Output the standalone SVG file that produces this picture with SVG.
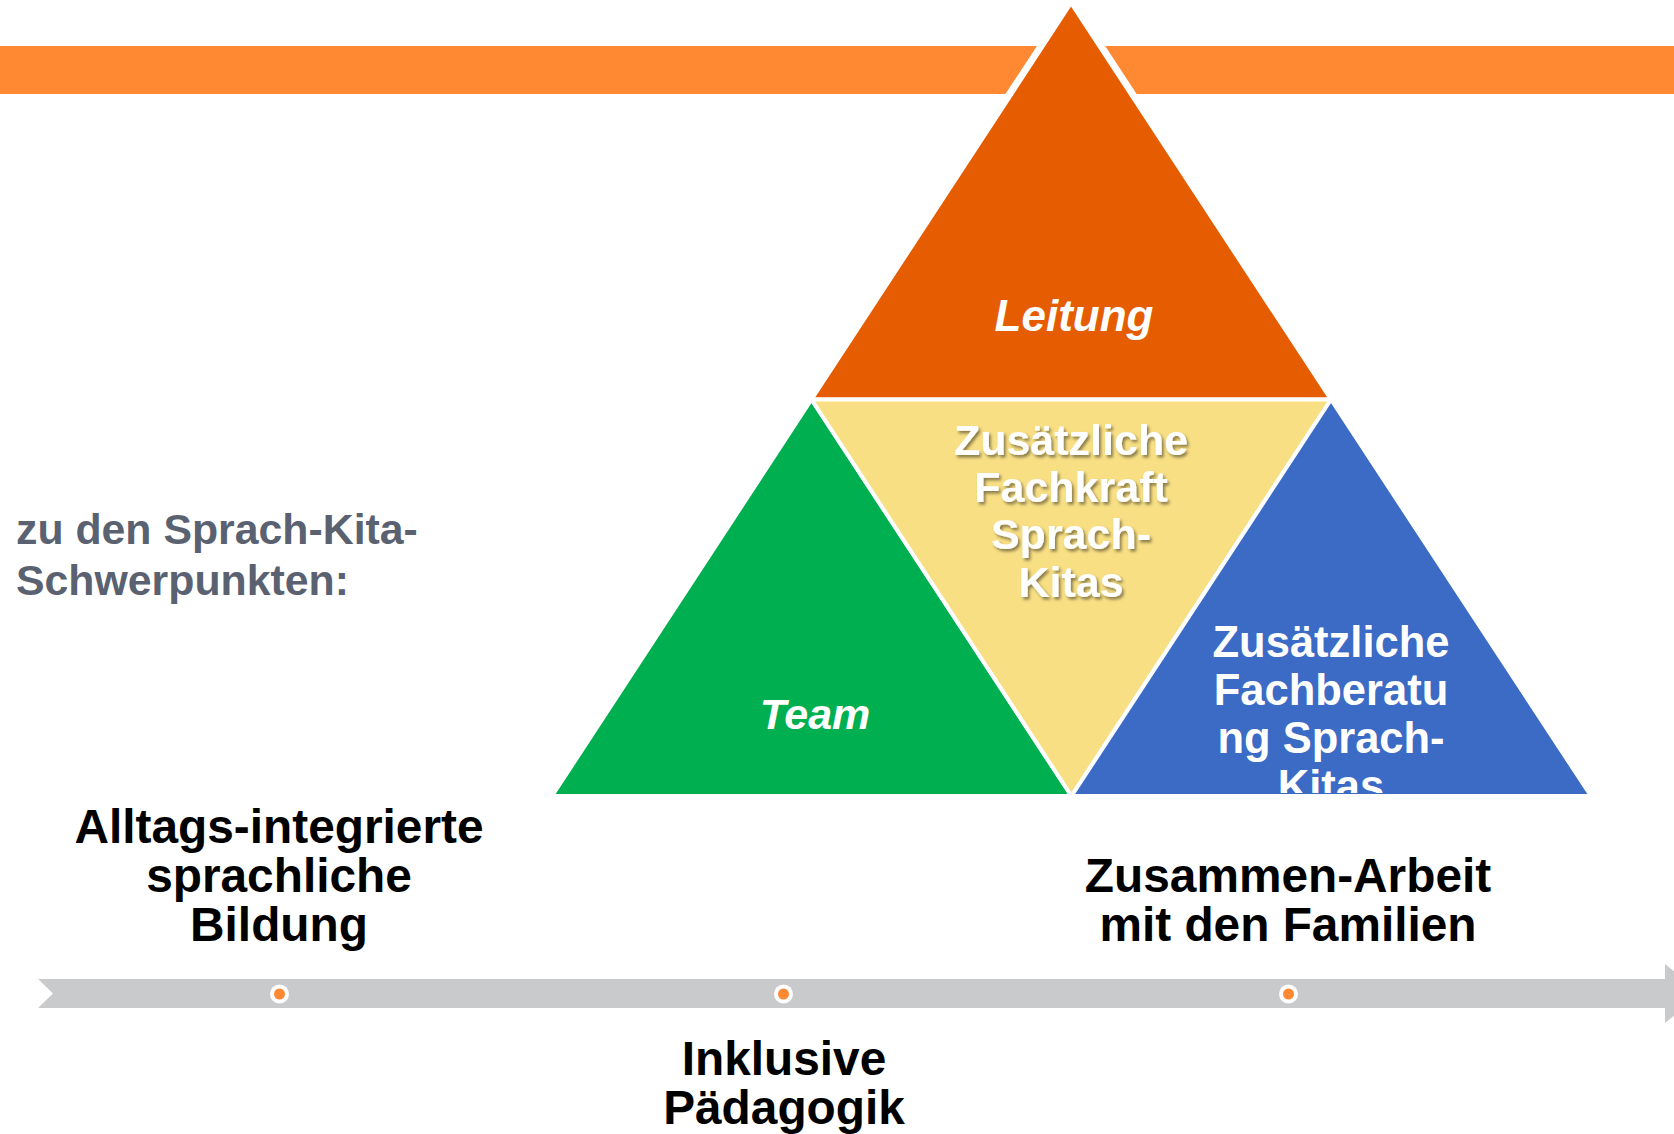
<svg xmlns="http://www.w3.org/2000/svg" width="1674" height="1134" viewBox="0 0 1674 1134">
  <defs>
    <style>
      .lbl { font-family: "Liberation Sans", Arial, sans-serif; font-weight: bold; }
      .white { fill: #ffffff; }
      .ital { font-style: italic; }
      .black { fill: #000000; font-size: 47.8px; text-anchor: middle; }
      .tri { stroke: #ffffff; stroke-width: 4; stroke-linejoin: miter; }
      .dot-ring { fill: #ffffff; }
      .dot { fill: #FF8833; }
    </style>
    <filter id="textShadow" x="-10%" y="-20%" width="125%" height="150%">
      <feDropShadow dx="2" dy="2.5" stdDeviation="1.4" flood-color="#000000" flood-opacity="0.45"/>
    </filter>
    <clipPath id="blueClip">
      <rect x="1060" y="380" width="560" height="413"/>
    </clipPath>
  </defs>

  <rect width="1674" height="1134" fill="#ffffff"/>

  <!-- header band -->
  <rect id="header-band" x="0" y="46" width="1674" height="48" fill="#FF8833"/>

  <!-- timeline arrow with the three focus markers -->
  <g id="connectors">
    <polygon points="38,979 1665,979 1665,964 1702,993.5 1665,1023 1665,1008 38,1008 53,993.5" fill="#C9CACC"/>
  </g>

  <!-- pyramid -->
  <g id="node-leitung">
    <polygon points="1071,3 811.5,399.5 1331,399.5" fill="none" stroke="#ffffff" stroke-width="10" stroke-linejoin="round"/>
    <polygon class="tri" points="1071,3 811.5,399.5 1331,399.5" fill="#E65C00"/>
    <text class="lbl white ital" x="1074" y="331" font-size="44" text-anchor="middle">Leitung</text>
  </g>

  <g id="node-team">
    <polygon class="tri" points="811.5,399.5 552,796 1071.5,796" fill="#00B050"/>
    <text class="lbl white ital" x="815" y="729" font-size="43" text-anchor="middle">Team</text>
  </g>

  <g id="node-fachkraft">
    <polygon class="tri" points="811.5,399.5 1331,399.5 1071.5,796" fill="#F8DF84"/>
    <g class="lbl white" font-size="43" text-anchor="middle" filter="url(#textShadow)">
      <text x="1071" y="455">Zusätzliche</text>
      <text x="1071" y="502">Fachkraft</text>
      <text x="1071" y="549">Sprach-</text>
      <text x="1071" y="597">Kitas</text>
    </g>
  </g>

  <g id="node-fachberatung">
    <polygon class="tri" points="1331,399.5 1071.5,796 1591,796" fill="#3B6BC5"/>
    <g class="lbl white" font-size="43.5" text-anchor="middle" clip-path="url(#blueClip)">
      <text x="1331" y="657">Zusätzliche</text>
      <text x="1331" y="705">Fachberatu</text>
      <text x="1331" y="753">ng Sprach-</text>
      <text x="1331" y="801">Kitas</text>
    </g>
  </g>

  <!-- side heading -->
  <g id="node-heading" class="lbl" font-size="42.8" fill="#5A6170">
    <text x="16" y="544">zu den Sprach-Kita-</text>
    <text x="16" y="595">Schwerpunkten:</text>
  </g>

  <!-- focus areas on the timeline -->
  <g id="node-alltag">
    <circle class="dot-ring" cx="279.5" cy="994" r="9.5"/>
    <circle class="dot" cx="279.5" cy="994" r="5.5"/>
    <text class="lbl black" x="279" y="843">Alltags-integrierte</text>
    <text class="lbl black" x="279" y="892">sprachliche</text>
    <text class="lbl black" x="279" y="941">Bildung</text>
  </g>

  <g id="node-inklusion">
    <circle class="dot-ring" cx="783.5" cy="994" r="9.5"/>
    <circle class="dot" cx="783.5" cy="994" r="5.5"/>
    <text class="lbl black" x="784" y="1075">Inklusive</text>
    <text class="lbl black" x="784" y="1124">Pädagogik</text>
  </g>

  <g id="node-familien">
    <circle class="dot-ring" cx="1288.5" cy="994" r="9.5"/>
    <circle class="dot" cx="1288.5" cy="994" r="5.5"/>
    <text class="lbl black" x="1288" y="892">Zusammen-Arbeit</text>
    <text class="lbl black" x="1288" y="941">mit den Familien</text>
  </g>
</svg>
